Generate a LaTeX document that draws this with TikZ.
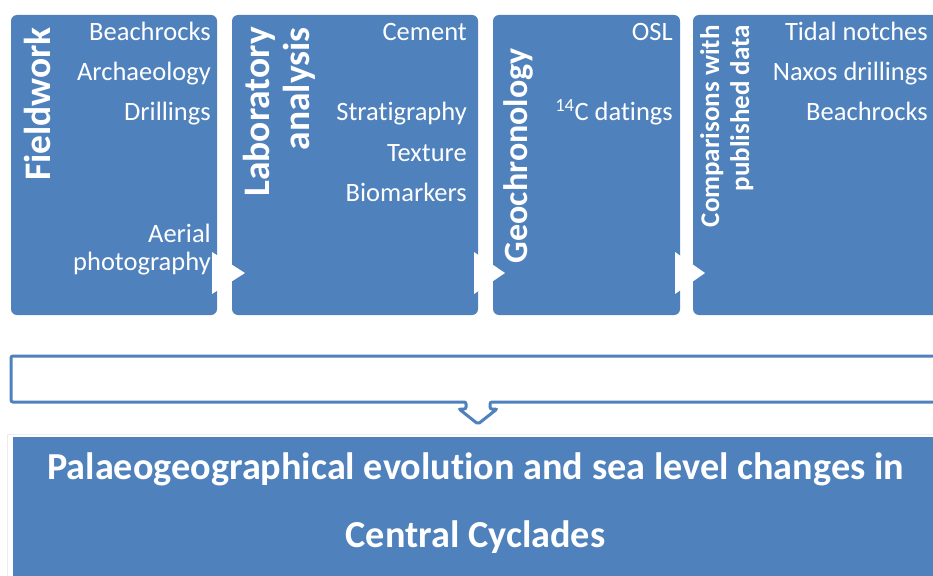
\documentclass[tikz,border=0pt]{standalone}
\usepackage{fontspec}
\setmainfont{Carlito}[Ligatures={NoCommon}]
\usetikzlibrary{calc}
\definecolor{accent}{HTML}{4F81BD}
\begin{document}
\begin{tikzpicture}[x=1pt,y=-1pt,
  panel/.style={fill=accent, draw=none, rounded corners=6pt, inner sep=0pt, outer sep=0pt, anchor=north west},
  item/.style={text=white, font=\fontsize{26.5}{31}\selectfont, anchor=base east, inner sep=0pt},
  title/.style={text=white, font=\bfseries\fontsize{37.5}{40}\selectfont, rotate=90, anchor=base east, inner sep=0pt},
  stitle/.style={title, font=\bfseries\fontsize{27}{30}\selectfont},
  gap/.style={fill=white, draw=none},
  big/.style={text=white, font=\bfseries\fontsize{38.2}{44}\selectfont, anchor=base, inner sep=0pt}]
\useasboundingbox (0,0) rectangle (933,575);
\clip (0,0) rectangle (933,575);
\fill[white] (0,0) rectangle (933,575);

% top panels
\node[panel, minimum width=206pt, minimum height=300pt] (f) at (11,15) {};
\node[panel, minimum width=246pt, minimum height=300pt] (l) at (232,15) {};
\node[panel, minimum width=187pt, minimum height=300pt] (g) at (493,15) {};
\node[panel, minimum width=270pt, minimum height=300pt] (c) at (693,15) {};

% white arrow heads between the panels
\fill[gap] ($(f.north east)+(-5,237)$) -- ($(f.north east)+(28,258)$) -- ($(f.north east)+(-5,279)$) -- cycle;
\fill[gap] ($(l.north east)+(-4,237)$) -- ($(l.north east)+(27,258)$) -- ($(l.north east)+(-4,279)$) -- cycle;
\fill[gap] ($(g.north east)+(-5,237)$) -- ($(g.north east)+(25,258)$) -- ($(g.north east)+(-5,279)$) -- cycle;

% titles
\node[title] (ft) at (50,27) {Fieldwork};
\node[title] (lt1) at (269,27) {Laboratory};
\node[title] (lt2) at (309,27) {analysis};
\node[title, font=\bfseries\fontsize{34}{38}\selectfont] (gt) at (527,48) {Geochronology};
\node[stitle] (ct1) at (719,25) {Comparisons with};
\node[stitle] (ct2) at (749,25) {published data};

% items
\node[item] (f1) at (211,41) {Beachrocks};
\node[item] (f2) at (211,81) {Archaeology};
\node[item] (f3) at (211,121) {Drillings};
\node[item] (f4) at (211,242) {Aerial};
\node[item] (f5) at (211,270) {photography};

\node[item] (l1) at (467,41) {Cement};
\node[item] (l2) at (467,121) {Strat\kern0pt igraphy};
\node[item] (l3) at (467,161) {Texture};
\node[item] (l4) at (467,201) {Biomarkers};

\node[item] (g1) at (673,41) {OSL};
\node[item] (g2) at (673,121) {\textsuperscript{14}C dat\kern0pt ings};

\node[item] (c1) at (928,41) {Tidal notches};
\node[item] (c2) at (928,81) {Naxos drillings};
\node[item] (c3) at (928,121) {Beachrocks};

% hollow bracket with down arrow
\draw[accent, line width=3pt, rounded corners=2pt]
  (466,402) -- (11,402) -- (11,356) -- (950,356) -- (950,402) -- (490,402)
  -- (490,409) -- (497,409) -- (478,424) -- (459,409) -- (466,409) -- cycle;

% result panel
\draw[black!7, line width=0.8pt] (7,434) rectangle (950,600);
\node[fill=accent, draw=none, inner sep=0pt, outer sep=0pt, anchor=north west,
      minimum width=940pt, minimum height=160pt] (r) at (13,437) {};
\node[big] (r1) at (475.5,479) {Palaeogeographical evolution and sea level changes in};
\node[big] (r2) at (475.5,547) {Central Cyclades};
\end{tikzpicture}
\end{document}
